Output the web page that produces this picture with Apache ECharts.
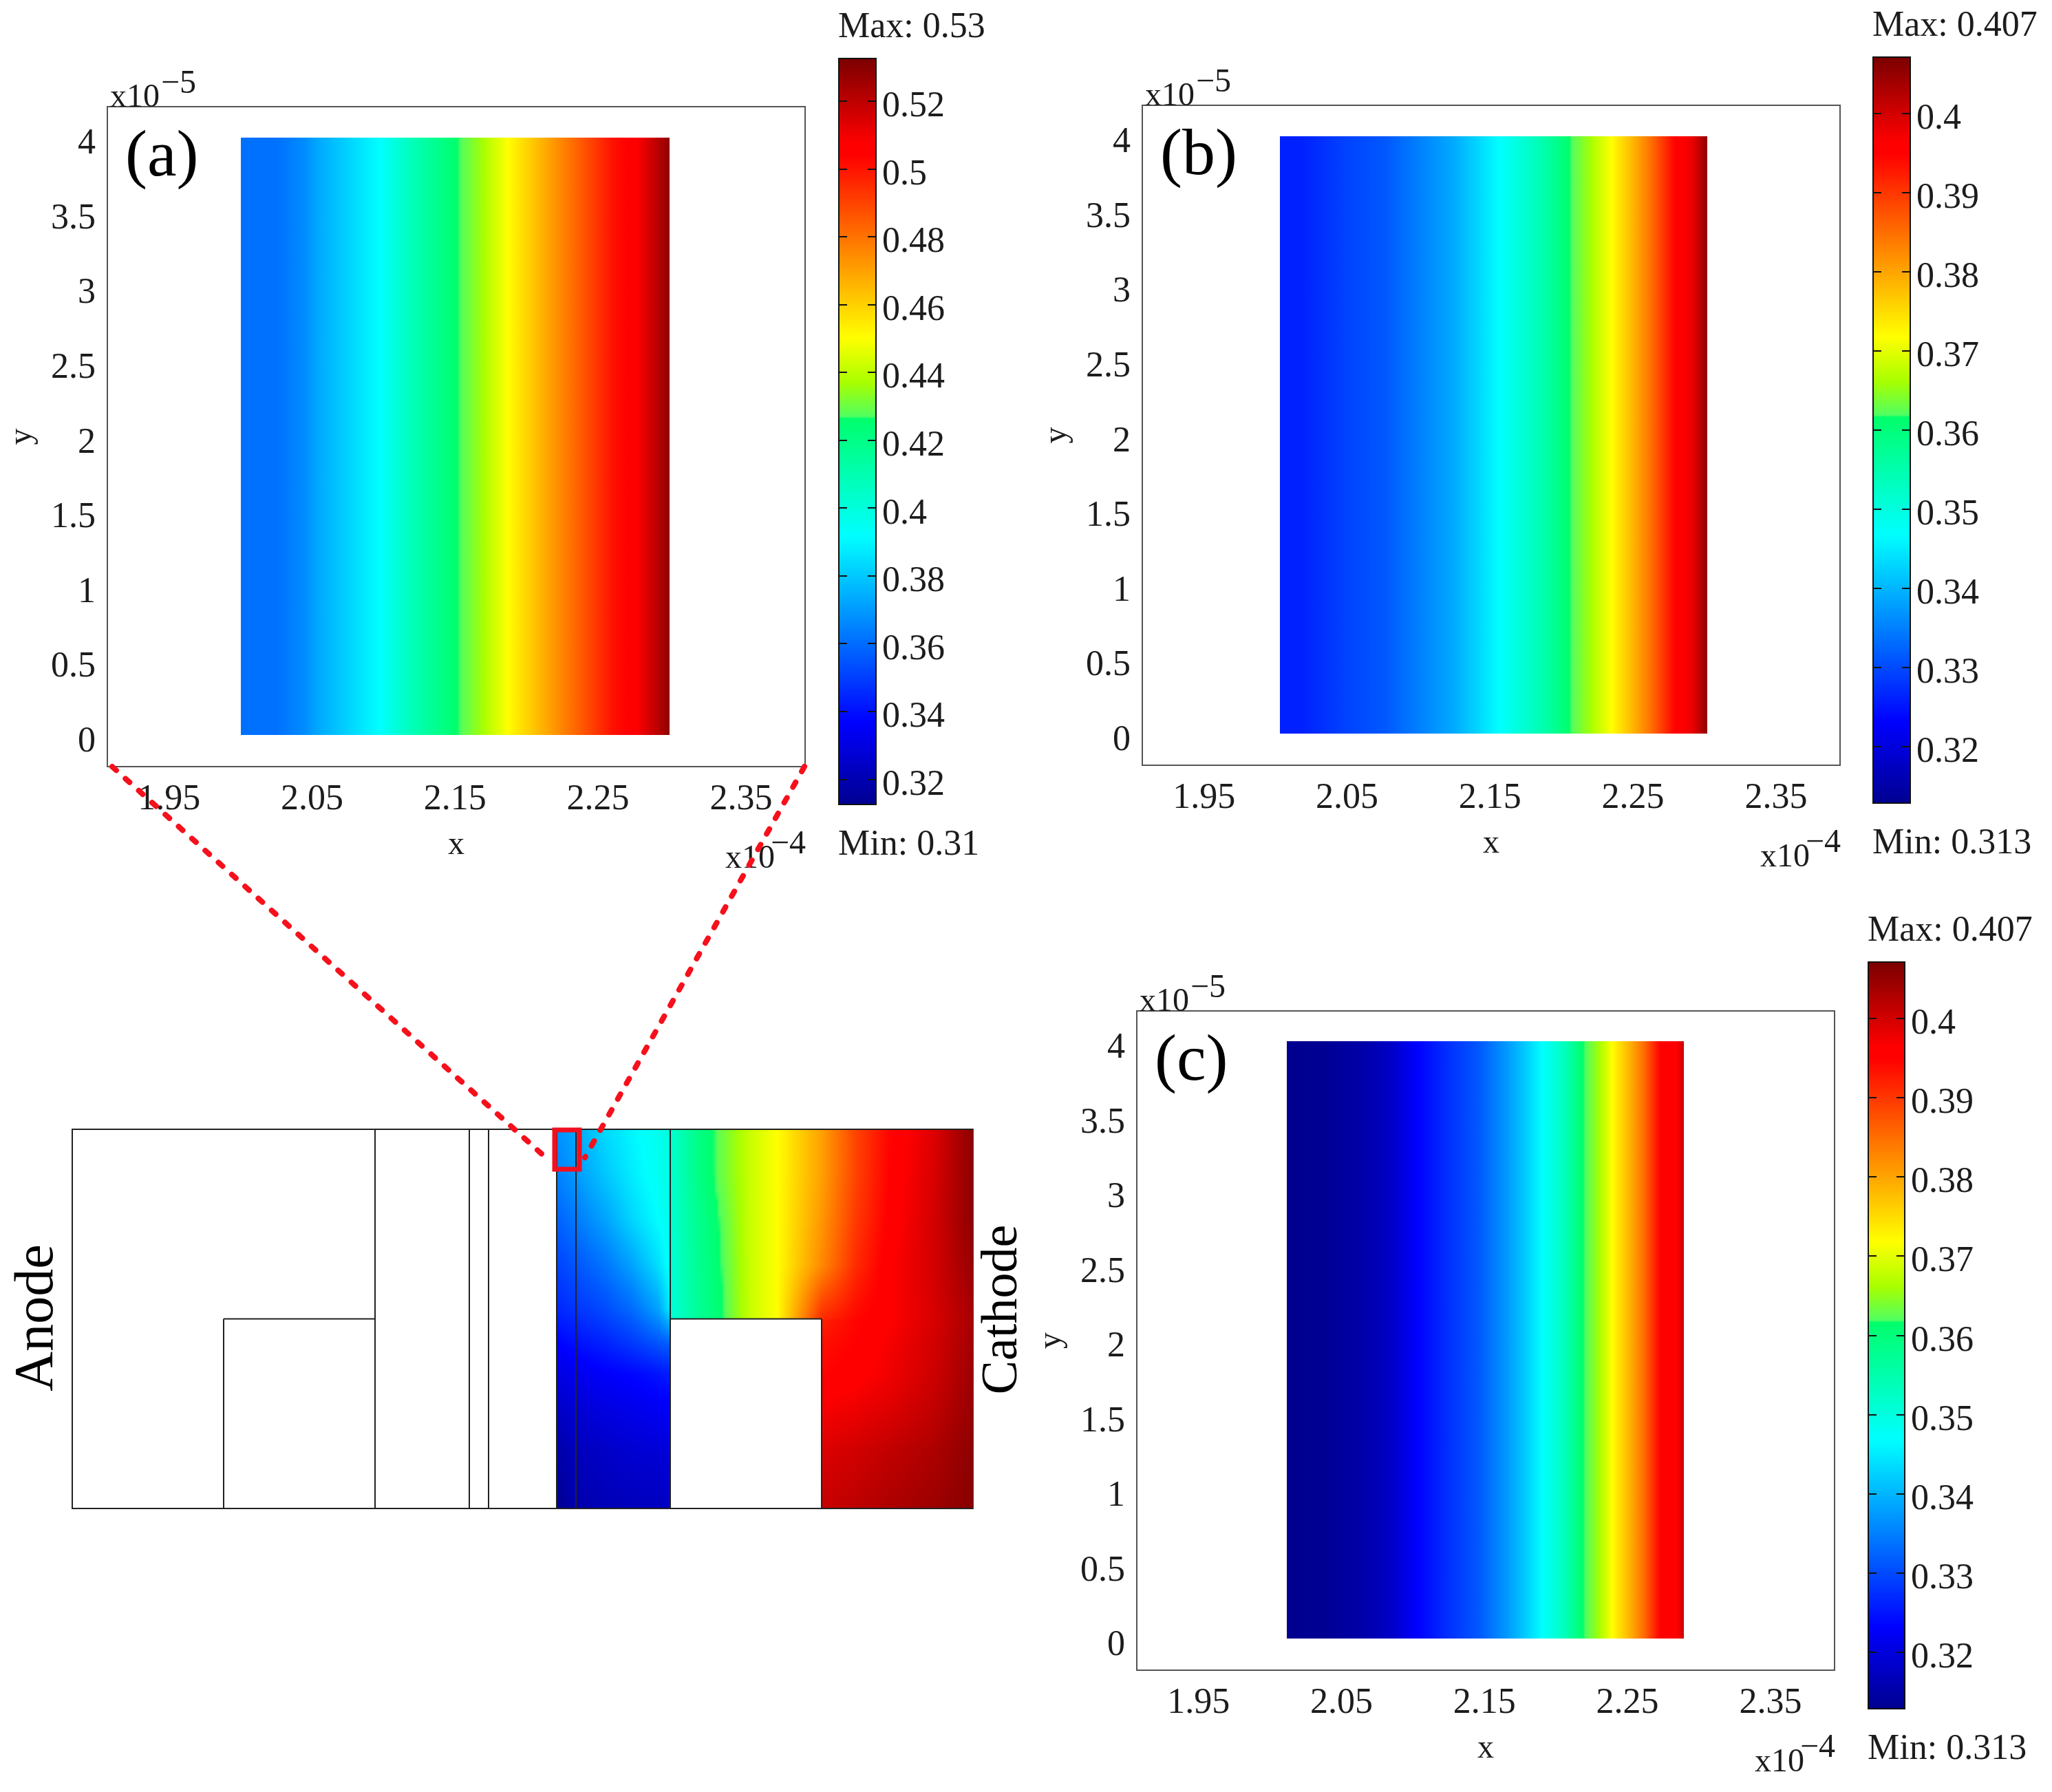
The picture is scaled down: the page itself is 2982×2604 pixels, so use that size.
<!DOCTYPE html>
<html><head><meta charset="utf-8">
<style>html,body{margin:0;padding:0;background:#fff}#c{width:2982px;height:2604px}</style>
<script src="https://cdn.jsdelivr.net/npm/echarts@6/dist/echarts.min.js"></script>
</head><body><div id="c"></div>
<script>
// ---------- data ----------
const xTicks = [1.95, 2.05, 2.15, 2.25, 2.35];
const yTicks = [0, 0.5, 1, 1.5, 2, 2.5, 3, 3.5, 4];
const xAxisRange = [1.9068, 2.3948];
const yAxisRange = [-0.21, 4.205];

const rangeA = [0.3126, 0.5326];
const rangeBC = [0.3129, 0.4071];
const barTicksA = [0.32, 0.34, 0.36, 0.38, 0.4, 0.42, 0.44, 0.46, 0.48, 0.5, 0.52];
const barTicksBC = [0.32, 0.33, 0.34, 0.35, 0.36, 0.37, 0.38, 0.39, 0.4];

const profileXA = [2.0, 2.0248, 2.0444, 2.0543, 2.0739, 2.0975, 2.1172, 2.1329, 2.1516, 2.1535, 2.1683, 2.187, 2.2115, 2.2312, 2.2607, 2.2744, 2.2902, 2.3];
const profileVA = [0.361, 0.361, 0.3669, 0.3731, 0.3817, 0.3918, 0.4065, 0.4158, 0.4265, 0.427, 0.4358, 0.4501, 0.4668, 0.4802, 0.5007, 0.5051, 0.5194, 0.5284];
const profileXB = [2.003, 2.0179, 2.0472, 2.0766, 2.1, 2.1235, 2.1392, 2.1568, 2.1744, 2.1902, 2.2053, 2.2073, 2.2194, 2.2351, 2.2507, 2.2625, 2.2801, 2.2918, 2.302];
const profileVB = [0.3262, 0.3262, 0.3292, 0.3314, 0.335, 0.3388, 0.3425, 0.3468, 0.3514, 0.3559, 0.3616, 0.3619, 0.3657, 0.3718, 0.3789, 0.3847, 0.3953, 0.3981, 0.4053];
const profileXC = [2.0116, 2.0365, 2.0659, 2.0855, 2.1031, 2.1247, 2.1462, 2.1658, 2.1795, 2.1903, 2.205, 2.2187, 2.2207, 2.2295, 2.2393, 2.2521, 2.2609, 2.2736, 2.2834, 2.2893];
const profileVC = [0.3129, 0.3132, 0.3154, 0.3182, 0.3233, 0.3277, 0.3314, 0.3374, 0.3425, 0.3468, 0.3531, 0.3616, 0.3619, 0.3657, 0.3718, 0.3789, 0.3847, 0.3953, 0.3958, 0.4005];

// whole-cell view: layer boundaries, in picture-derived relative units
const cellWidth = 13.09, cellHeight = 5.5, stepHeight = 2.75;
const layerFull = [4.4, 5.77, 6.05, 7.04, 7.32, 8.69];
const layerLow = [2.2, 10.89];
const ribSpans = [[2.2, 4.4], [8.69, 10.89]];

const innerX = [7.04, 7.32, 7.75, 8.14, 8.52, 8.69];
const innerY = [5.5, 4.86, 4.19, 3.52, 2.89, 2.40, 1.96, 1.51, 0.84, 0];
const innerV = [
  [0.368, 0.373, 0.384, 0.390, 0.396, 0.400],
  [0.365, 0.370, 0.380, 0.388, 0.395, 0.399],
  [0.358, 0.363, 0.372, 0.383, 0.392, 0.397],
  [0.351, 0.355, 0.362, 0.372, 0.385, 0.394],
  [0.345, 0.348, 0.353, 0.360, 0.372, 0.388],
  [0.337, 0.340, 0.344, 0.349, 0.355, 0.357],
  [0.330, 0.333, 0.336, 0.338, 0.341, 0.343],
  [0.325, 0.328, 0.331, 0.333, 0.335, 0.336],
  [0.318, 0.322, 0.325, 0.327, 0.328, 0.329],
  [0.3126, 0.319, 0.321, 0.322, 0.323, 0.324]
];
const upperX = [8.69, 9.09, 9.48, 9.86, 10.24, 10.89, 11.39, 11.87, 12.54, 13.09];
const upperY = [5.5, 4.86, 4.19, 3.52, 2.75];
const upperV = [
  [0.402, 0.420, 0.431, 0.442, 0.450, 0.470, 0.490, 0.503, 0.514, 0.529],
  [0.402, 0.420, 0.431, 0.442, 0.450, 0.470, 0.490, 0.504, 0.515, 0.529],
  [0.402, 0.418, 0.429, 0.442, 0.450, 0.472, 0.492, 0.505, 0.516, 0.529],
  [0.401, 0.417, 0.428, 0.442, 0.450, 0.475, 0.495, 0.507, 0.516, 0.527],
  [0.400, 0.416, 0.427, 0.442, 0.450, 0.495, 0.503, 0.507, 0.515, 0.524]
];
const lowerX = [10.89, 11.39, 11.87, 12.54, 13.09];
const lowerY = [2.75, 2.40, 1.96, 1.51, 0.84, 0];
const lowerV = [
  [0.497, 0.503, 0.507, 0.515, 0.524],
  [0.501, 0.504, 0.509, 0.516, 0.525],
  [0.503, 0.506, 0.510, 0.517, 0.526],
  [0.508, 0.510, 0.513, 0.519, 0.527],
  [0.514, 0.516, 0.519, 0.523, 0.529],
  [0.518, 0.520, 0.523, 0.526, 0.530]
];
// colour scale as seen on the colour bars
const scaleOffsets = [0, 0.11, 0.36, 0.5175, 0.52, 0.565, 0.625, 0.87, 0.885, 1];
const scaleColors = ['#00008f', '#0000ff', '#00ffff', '#00ff6a', '#50ff60', '#a8ff00', '#ffff00', '#ff0000', '#ff0000', '#7a0000'];

// ---------- helpers ----------
const FONT = '"Liberation Serif","Times New Roman",serif';
const INK = '#1c1c1c';
const rgb = scaleColors.map(h => [1, 3, 5].map(i => parseInt(h.substr(i, 2), 16)));
function colorAt(t) {
  t = Math.max(0, Math.min(1, t));
  let i = 0;
  while (i < scaleOffsets.length - 2 && t > scaleOffsets[i + 1]) i++;
  const f = (t - scaleOffsets[i]) / (scaleOffsets[i + 1] - scaleOffsets[i]);
  const c = rgb[i].map((a, k) => Math.round(a + (rgb[i + 1][k] - a) * f));
  return 'rgb(' + c.join(',') + ')';
}
function spanGradient(v0, v1, range) {
  const stops = [], n = 10;
  for (let i = 0; i <= n; i++) {
    const v = v0 + (v1 - v0) * i / n;
    stops.push({ offset: i / n, color: colorAt((v - range[0]) / (range[1] - range[0])) });
  }
  return new echarts.graphic.LinearGradient(0, 0, 1, 0, stops);
}
function stripSeries(gridIndex, xs, vs, range) {
  const rows = [];
  for (let i = 0; i + 1 < xs.length; i++) rows.push([xs[i], xs[i + 1], 0, 4, vs[i], vs[i + 1]]);
  return {
    type: 'custom', xAxisIndex: gridIndex, yAxisIndex: gridIndex, data: rows, silent: true, z: 2, clip: false,
    encode: { x: [0, 1], y: [2, 3] },
    renderItem(p, api) {
      const a = api.coord([api.value(0), api.value(3)]), b = api.coord([api.value(1), api.value(2)]);
      const x = Math.round(a[0]), w = Math.round(b[0]) - x, y = Math.round(a[1]), h = Math.round(b[1]) - y;
      return { type: 'rect', shape: { x, y, width: w, height: h }, style: { fill: spanGradient(api.value(4), api.value(5), range) } };
    }
  };
}
function fieldSeries(gridIndex, xs, ys, vv, range) {
  const rows = [];
  for (let j = 0; j + 1 < ys.length; j++) for (let i = 0; i + 1 < xs.length; i++)
    rows.push([xs[i], xs[i + 1], ys[j + 1], ys[j], vv[j + 1][i], vv[j + 1][i + 1], vv[j][i], vv[j][i + 1]]);
  return {
    type: 'custom', xAxisIndex: gridIndex, yAxisIndex: gridIndex, data: rows, silent: true, z: 2, clip: false,
    encode: { x: [0, 1], y: [2, 3] },
    renderItem(p, api) {
      const a = api.coord([api.value(0), api.value(3)]), b = api.coord([api.value(1), api.value(2)]);
      const x = Math.round(a[0]), w = Math.round(b[0]) - x, y0 = Math.round(a[1]), y1 = Math.round(b[1]);
      const ll = api.value(4), lr = api.value(5), tl = api.value(6), tr = api.value(7);
      const children = [];
      for (let y = y0; y < y1; y += 2) {
        const f = (y + 1 - y0) / (y1 - y0);
        const vl = tl + (ll - tl) * f, vr = tr + (lr - tr) * f;
        children.push({ type: 'rect', shape: { x, y, width: w, height: Math.min(2, y1 - y) }, style: { fill: spanGradient(vl, vr, range) } });
      }
      return { type: 'group', children };
    }
  };
}
function barSeries(gridIndex, range) {
  return {
    type: 'custom', xAxisIndex: gridIndex, yAxisIndex: gridIndex, data: [[0, 1, range[0], range[1]]], silent: true, z: 2, clip: false,
    encode: { x: [0, 1], y: [2, 3] },
    renderItem(p, api) {
      const a = api.coord([api.value(0), api.value(3)]), b = api.coord([api.value(1), api.value(2)]);
      const stops = scaleOffsets.map((o, i) => ({ offset: o, color: scaleColors[i] }));
      return { type: 'rect', shape: { x: a[0], y: a[1], width: b[0] - a[0], height: b[1] - a[1] },
        style: { fill: new echarts.graphic.LinearGradient(0, 1, 0, 0, stops), stroke: '#111', lineWidth: 2 } };
    }
  };
}
function barTickSeries(gridIndex, ticks) {
  return {
    type: 'custom', xAxisIndex: gridIndex, yAxisIndex: gridIndex, data: ticks.map(v => [0, 1, v]), silent: true, z: 4, clip: false,
    encode: { x: [0, 1], y: 2 },
    renderItem(p, api) {
      const a = api.coord([api.value(0), api.value(2)]), b = api.coord([api.value(1), api.value(2)]);
      const y = Math.round(a[1]), L = 12;
      const st = { stroke: '#111', lineWidth: 2 };
      return { type: 'group', children: [
        { type: 'line', shape: { x1: a[0], y1: y, x2: a[0] + L, y2: y }, style: st },
        { type: 'line', shape: { x1: b[0] - L, y1: y, x2: b[0], y2: y }, style: st }
      ] };
    }
  };
}
function lineSeries(gridIndex, rows) {
  return {
    type: 'custom', xAxisIndex: gridIndex, yAxisIndex: gridIndex, data: rows, silent: true, z: 3, clip: false,
    encode: { x: [0, 2], y: [1, 3] },
    renderItem(p, api) {
      const a = api.coord([api.value(0), api.value(1)]), b = api.coord([api.value(2), api.value(3)]);
      return { type: 'line', shape: { x1: a[0], y1: a[1], x2: b[0], y2: b[1] }, style: { stroke: '#222', lineWidth: 2 } };
    }
  };
}
const labelStyle = { fontFamily: FONT, fontSize: 52, color: INK };
const nameStyle = { fontFamily: FONT, fontSize: 48, color: INK };

// ---------- layout ----------
const panels = [
  { tag: '(a)', left: 156, top: 155, right: 1170, bottom: 1114, bar: { left: 1219, right: 1273, top: 85, bottom: 1169 }, range: rangeA, ticks: barTicksA, xs: profileXA, vs: profileVA, max: 'Max: 0.53', min: 'Min: 0.31' },
  { tag: '(b)', left: 1660, top: 153, right: 2674, bottom: 1112, bar: { left: 2722, right: 2776, top: 83, bottom: 1167 }, range: rangeBC, ticks: barTicksBC, xs: profileXB, vs: profileVB, max: 'Max: 0.407', min: 'Min: 0.313' },
  { tag: '(c)', left: 1652, top: 1469, right: 2666, bottom: 2427, bar: { left: 2715, right: 2768, top: 1398, bottom: 2483 }, range: rangeBC, ticks: barTicksBC, xs: profileXC, vs: profileVC, max: 'Max: 0.407', min: 'Min: 0.313' }
];
const grid = [], xAxis = [], yAxis = [], series = [], graphic = [];
function text(str, x, y, opt) {
  graphic.push({ type: 'text', x, y, z: 20, style: Object.assign({ text: str, font: '48px ' + FONT, fill: INK, textAlign: 'left', textVerticalAlign: 'middle' }, opt || {}) });
}
panels.forEach(p => {
  let g = grid.length;
  grid.push({ left: p.left, top: p.top, width: p.right - p.left, height: p.bottom - p.top, show: true, borderColor: '#555', borderWidth: 2, backgroundColor: '#fff' });
  xAxis.push({ gridIndex: g, type: 'value', min: xAxisRange[0], max: xAxisRange[1], axisLine: { show: false }, axisTick: { show: false }, splitLine: { show: false },
    axisLabel: Object.assign({ customValues: xTicks, margin: 22, formatter: v => v.toFixed(2) }, labelStyle),
    name: 'x', nameLocation: 'middle', nameGap: 90, nameTextStyle: nameStyle });
  yAxis.push({ gridIndex: g, type: 'value', min: yAxisRange[0], max: yAxisRange[1], axisLine: { show: false }, axisTick: { show: false }, splitLine: { show: false },
    axisLabel: Object.assign({ customValues: yTicks, margin: 17, verticalAlign: 'top', lineHeight: 20, formatter: v => String(v) }, labelStyle),
    name: 'y', nameLocation: 'middle', nameRotate: 90, nameGap: 100, nameTextStyle: nameStyle });
  series.push(stripSeries(g, p.xs, p.vs, p.range));

  text('x10', p.left + 4, p.top - 13);
  text('\u22125', p.left + 78, p.top - 33);
  text('x10', p.right - 116, p.bottom + 134);
  text('\u22124', p.right + 1, p.bottom + 113, { textAlign: 'right' });
  text(p.tag, p.left + 26, p.top + 75, { font: '96px ' + FONT, fill: '#000' });

  g = grid.length;
  const b = p.bar;
  grid.push({ left: b.left, top: b.top, width: b.right - b.left, height: b.bottom - b.top, show: false });
  xAxis.push({ gridIndex: g, type: 'value', min: 0, max: 1, show: false });
  yAxis.push({ gridIndex: g, type: 'value', position: 'right', min: p.range[0], max: p.range[1], splitLine: { show: false }, axisLine: { show: false }, axisTick: { show: false },
    axisLabel: Object.assign({ customValues: p.ticks, margin: 9, verticalAlign: 'top', lineHeight: 17, formatter: v => String(v) }, labelStyle) });
  series.push(barSeries(g, p.range));
  series.push(barTickSeries(g, p.ticks));
  text(p.max, b.left - 1, b.top - 45, { font: '52px ' + FONT });
  text(p.min, b.left - 1, b.bottom + 59, { font: '52px ' + FONT });
});

// whole-cell view
const g = grid.length;
grid.push({ left: 105, top: 1641, width: 1309, height: 551, show: true, borderColor: '#444', borderWidth: 2 });
xAxis.push({ gridIndex: g, type: 'value', min: 0, max: cellWidth, show: false });
yAxis.push({ gridIndex: g, type: 'value', min: 0, max: cellHeight, show: false });
series.push(fieldSeries(g, innerX, innerY, innerV, rangeA), fieldSeries(g, upperX, upperY, upperV, rangeA), fieldSeries(g, lowerX, lowerY, lowerV, rangeA));
const cellLines = [];
layerFull.forEach(x => cellLines.push([x, 0, x, cellHeight]));
layerLow.forEach(x => cellLines.push([x, 0, x, stepHeight]));
ribSpans.forEach(s => cellLines.push([s[0], stepHeight, s[1], stepHeight]));
cellLines.push([0, cellHeight, cellWidth, cellHeight], [0, 0, cellWidth, 0], [0, 0, 0, cellHeight]);
series.push(lineSeries(g, cellLines));

// annotations
const dash = { stroke: '#f5101c', lineWidth: 8, lineDash: [8, 18], lineCap: 'round' };
graphic.push({ type: 'line', z: 21, shape: { x1: 163, y1: 1114, x2: 793, y2: 1682 }, style: dash });
graphic.push({ type: 'line', z: 21, shape: { x1: 1169, y1: 1114, x2: 850, y2: 1682 }, style: dash });
graphic.push({ type: 'rect', z: 21, shape: { x: 806, y: 1642, width: 36, height: 57 }, style: { fill: 'none', stroke: '#f01020', lineWidth: 7 } });
graphic.push({ type: 'text', z: 20, x: 55, y: 1915, rotation: Math.PI / 2, style: { text: 'Anode', font: '80px ' + FONT, fill: '#000', textAlign: 'center', textVerticalAlign: 'middle' } });
graphic.push({ type: 'text', z: 20, x: 1458, y: 1903, rotation: Math.PI / 2, style: { text: 'Cathode', font: '74px ' + FONT, fill: '#000', textAlign: 'center', textVerticalAlign: 'middle' } });

echarts.init(document.getElementById('c'), null, { renderer: 'canvas' }).setOption({
  animation: false, backgroundColor: '#fff', grid, xAxis, yAxis, series, graphic
});
</script></body></html>
